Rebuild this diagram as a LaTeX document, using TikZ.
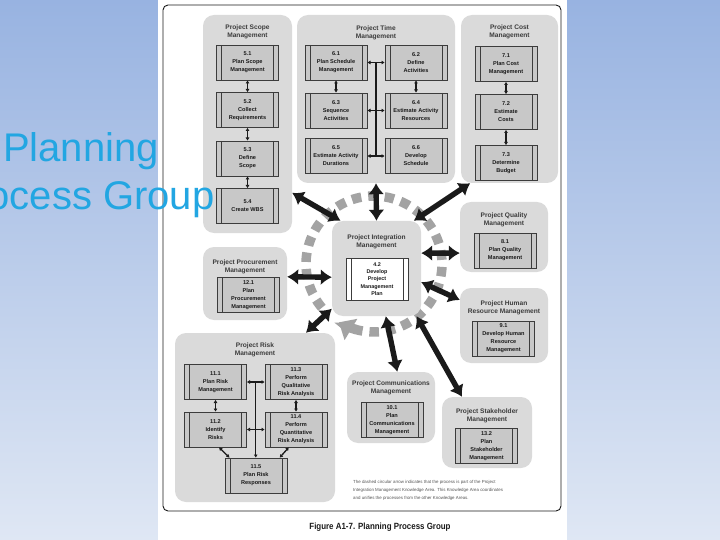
\documentclass[tikz,border=0pt]{standalone}
\usepackage{fontspec}
\setmainfont{Liberation Sans}
\newfontfamily\capfont[FakeStretch=0.88]{Liberation Sans}
\usetikzlibrary{arrows.meta,positioning,calc}
\definecolor{ink}{HTML}{1A1A1A}
\definecolor{bgtop}{HTML}{98B3E1}
\definecolor{bgbot}{HTML}{DFE7F4}
\definecolor{grpfill}{HTML}{DADADA}
\definecolor{procfill}{HTML}{C8C8C8}
\definecolor{procline}{HTML}{3C3C3C}
\definecolor{ringgrey}{HTML}{A3A3A3}
\definecolor{notegrey}{HTML}{555555}
\definecolor{titleblue}{HTML}{22A6E2}
\newcommand{\grpfont}{\fontsize{6.6}{8.4}\selectfont\bfseries}
\newcommand{\procfont}{\fontsize{5.6}{8}\selectfont\bfseries}

\begin{document}
\begin{tikzpicture}[x=1pt,y=-1pt,
  grp/.style={fill=grpfill,rounded corners=11pt,inner sep=0},
  gtitle/.style={anchor=north,align=center,inner sep=0,font=\grpfont,text=ink!85},
  proc/.style={draw=procline,line width=0.6pt,fill=procfill,minimum width=62pt,minimum height=35pt,
    inner sep=1pt,align=center,font=\procfont,text=ink,
    path picture={\draw[procline,line width=0.6pt]
      ([xshift=5pt]path picture bounding box.north west) -- ([xshift=5pt]path picture bounding box.south west)
      ([xshift=-5pt]path picture bounding box.north east) -- ([xshift=-5pt]path picture bounding box.south east);}},
  link/.style={ink,line width=1.3pt,{Latex[length=3.2pt,width=4pt]}-{Latex[length=3.2pt,width=4pt]}},
  bus/.style={ink,line width=1.3pt},
  big/.style={ink,line width=5.4pt,{Latex[length=11pt,width=16pt]}-{Latex[length=11pt,width=16pt]}},
  ring/.style={ringgrey,line width=9.5pt,dash pattern=on 9.5pt off 7pt}]
\useasboundingbox (0,0) rectangle (720,540);
\clip (0,0) rectangle (720,540);
\shade[top color=bgtop,bottom color=bgbot] (0,0) rectangle (720,540);
\fill[white] (157.5,0) rectangle (567,540);
\draw[ink,line width=0.9pt,rounded corners=5pt] (163,5) rectangle (561,511);

\coordinate (hub) at (374,264);
\draw[ring] (hub) ++(140:68) arc[start angle=140,end angle=467,radius=68];
\draw[ringgrey,line width=9.5pt,-{Triangle[length=14pt,width=24pt]}] (hub) ++(105:68) arc[start angle=105,end angle=121,radius=68];

\node[grp,minimum width=89pt,minimum height=218pt] (scope) at (247.5,124) {};
\node[grp,minimum width=158pt,minimum height=168pt] (time) at (376,99) {};
\node[grp,minimum width=97pt,minimum height=168pt] (cost) at (509.5,99) {};
\node[grp,minimum width=89pt,minimum height=95pt] (integ) at (376.5,268.5) {};
\node[grp,minimum width=84pt,minimum height=73pt] (procure) at (245,283.5) {};
\node[grp,minimum width=88pt,minimum height=70pt] (quality) at (504,237) {};
\node[grp,minimum width=88pt,minimum height=75pt] (hr) at (504,325.5) {};
\node[grp,minimum width=160pt,minimum height=169pt] (risk) at (255,417.5) {};
\node[grp,minimum width=88pt,minimum height=71pt] (comm) at (391,407.5) {};
\node[grp,minimum width=90pt,minimum height=71pt] (stake) at (487,432.5) {};

\foreach \g/\d/\t in {scope/9.5/{Project Scope\\Management},time/10.5/{Project Time\\Management},
  cost/9.5/{Project Cost\\Management},integ/13.5/{Project Integration\\Management},
  procure/12.5/{Project Procurement\\Management},quality/10.5/{Project Quality\\Management},
  hr/12.5/{Project Human\\Resource Management},risk/9.5/{Project Risk\\Management},
  comm/8.5/{Project Communications\\Management},stake/11.5/{Project Stakeholder\\Management}}
  \node[gtitle] (t\g) at ([yshift=-\d]\g.north) {\t};

\node[proc] (p51) at (247.5,62.5) {5.1\\Plan Scope\\Management};
\node[proc] (p52) at (247.5,110) {5.2\\Collect\\Requirements};
\node[proc] (p53) at (247.5,158.5) {5.3\\Define\\Scope};
\node[proc] (p54) at (247.5,206) {5.4\\Create WBS};
\node[proc] (p61) at (336,62.5) {6.1\\Plan Schedule\\Management};
\node[proc] (p62) at (416,62.5) {6.2\\Define\\Activities};
\node[proc] (p63) at (336,110.5) {6.3\\Sequence\\Activities};
\node[proc] (p64) at (416,110.5) {6.4\\Estimate Activity\\Resources};
\node[proc] (p65) at (336,156) {6.5\\Estimate Activity\\Durations};
\node[proc] (p66) at (416,156) {6.6\\Develop\\Schedule};
\node[proc] (p71) at (506,64) {7.1\\Plan Cost\\Management};
\node[proc] (p72) at (506,112) {7.2\\Estimate\\Costs};
\node[proc] (p73) at (506,163) {7.3\\Determine\\Budget};
\node[proc,fill=white,minimum height=42pt,font=\fontsize{5.4}{7.3}\selectfont\bfseries] (p42) at (377,279)
  {4.2\\Develop\\Project\\Management\\Plan};
\node[proc] (p121) at (248.5,295) {12.1\\Plan\\Procurement\\Management};
\node[proc] (p81) at (505,250.5) {8.1\\Plan Quality\\Management};
\node[proc] (p91) at (503.5,338.5) {9.1\\Develop Human\\Resource\\Management};
\node[proc] (p111) at (215.5,382) {11.1\\Plan Risk\\Management};
\node[proc] (p113) at (296,382) {11.3\\Perform\\Qualitative\\Risk Analysis};
\node[proc] (p112) at (215.5,429.5) {11.2\\Identify\\Risks};
\node[proc] (p114) at (296,429.5) {11.4\\Perform\\Quantitative\\Risk Analysis};
\node[proc] (p115) at (256,475.5) {11.5\\Plan Risk\\Responses};
\node[proc] (p101) at (392,420) {10.1\\Plan\\Communications\\Management};
\node[proc] (p132) at (486.5,446) {13.2\\Plan\\Stakeholder\\Management};

\foreach \a/\b in {p51/p52,p52/p53,p53/p54,p61/p63,p62/p64,p71/p72,p72/p73,
  p61/p62,p63/p64,p65/p66,p111/p112,p113/p114,p111/p113,p112/p114}
  \draw[link] (\a) -- (\b);
\draw[bus] ($(p61)!0.5!(p62)$) -- ($(p65)!0.5!(p66)$);
\coordinate (rbus) at ($(p111)!0.5!(p113)$);
\draw[bus,-{Latex[length=3.2pt,width=4pt]}] (rbus) -- (rbus |- p115.north);
\draw[link] (p112.-79) -- (p115.146);
\draw[link] (p114.-112) -- (p115.37);

\draw[big] (integ.127) -- (scope.-57);
\draw[big] (integ.north) -- (time.south);
\draw[big] (integ.52) -- (cost.-115);
\draw[big] (integ.19) -- (quality.-160);
\draw[big] (integ.-169) -- (procure.9);
\draw[big] (integ.-17) -- (hr.150);
\draw[big] (integ.-138) -- (risk.59);
\draw[big] (integ.-79) -- (comm.80);
\draw[big] (integ.-50) -- (stake.125);

\node[anchor=north west,align=left,inner sep=0,font=\fontsize{4.4}{8}\selectfont,text=notegrey] (note) at (353,480)
  {The dashed circular arrow indicates that the process is part of the Project\\
   Integration Management Knowledge Area. This Knowledge Area coordinates\\
   and unifies the processes from the other Knowledge Areas.};
\node[font=\capfont\bfseries\fontsize{9}{11}\selectfont,text=ink] (caption) at (380,527) {Figure A1-7. Planning Process Group};

\node[anchor=base,inner sep=0,font=\fontsize{40}{48}\selectfont,text=titleblue] (heading) at (81,162) {Planning};
\node[anchor=base,inner sep=0,font=\fontsize{40}{48}\selectfont,text=titleblue] (subheading) at (81,210) {Process Group};
\end{tikzpicture}
\end{document}
